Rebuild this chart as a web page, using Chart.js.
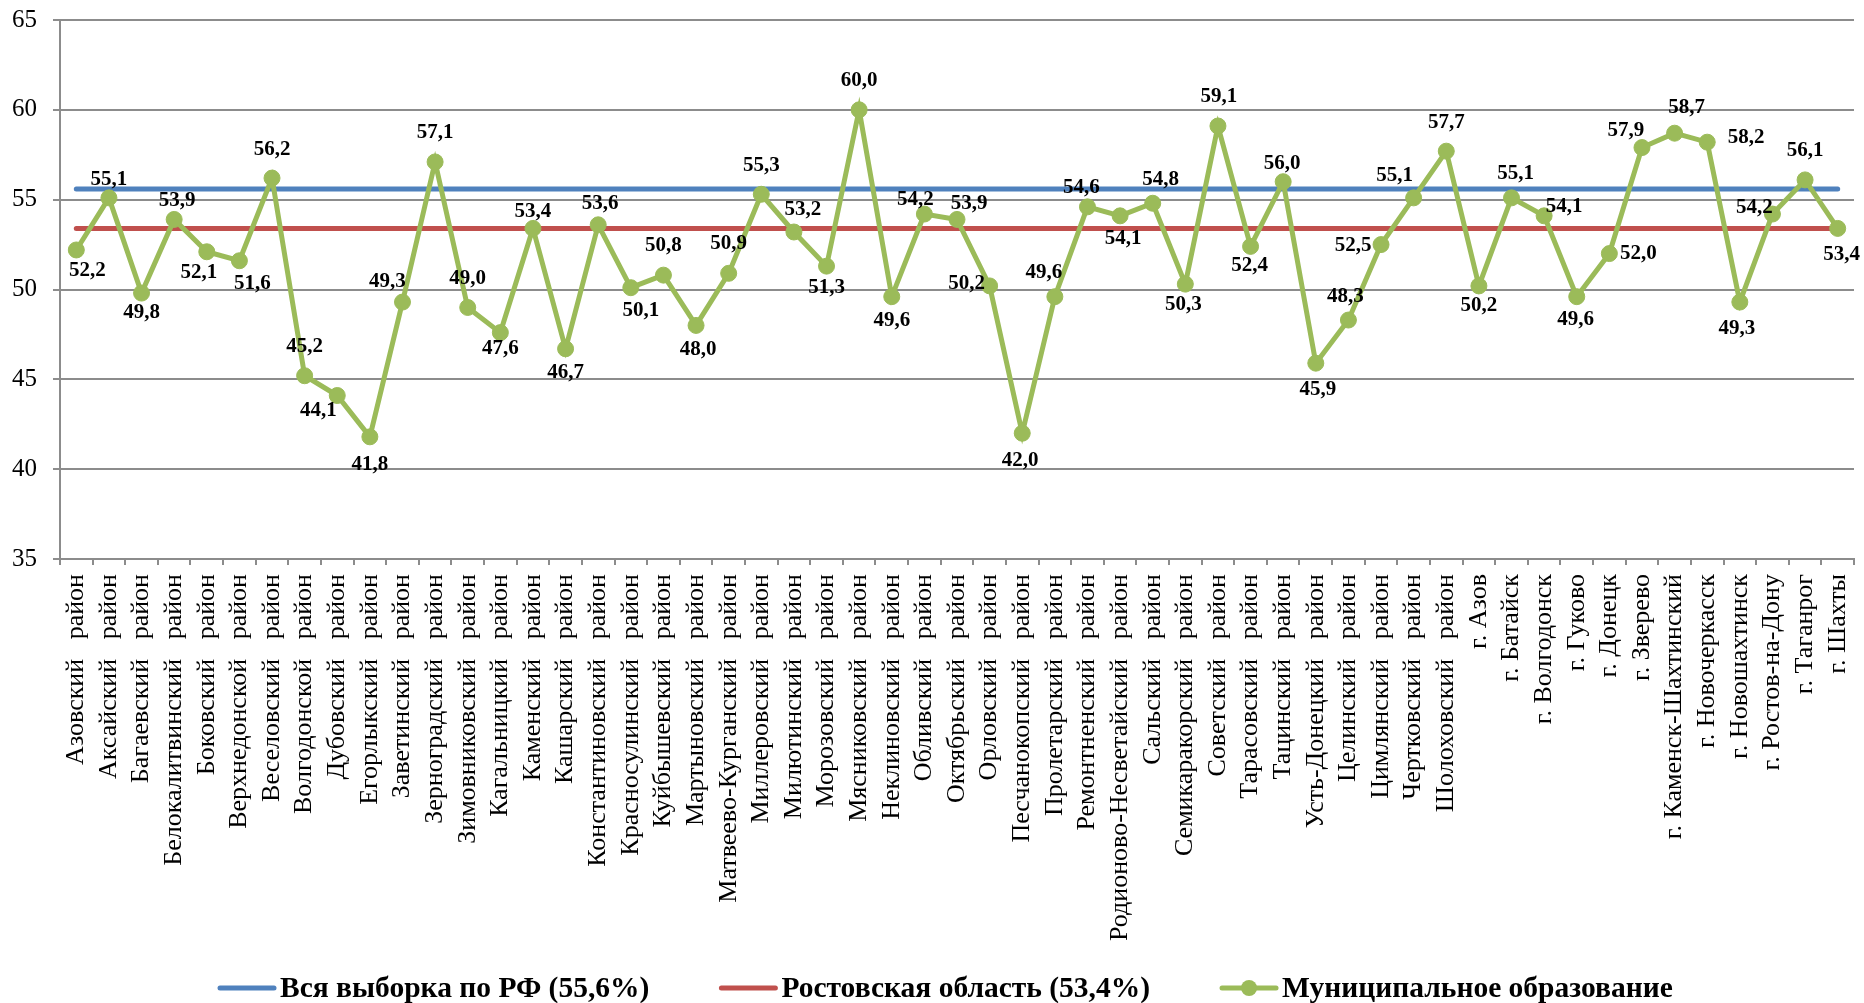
<!DOCTYPE html>
<html>
<head>
<meta charset="utf-8">
<script src="https://cdn.jsdelivr.net/npm/chart.js@4/dist/chart.umd.min.js"></script>
<style>
  body { margin: 0; background: #fff; }
  canvas { display: block; }
</style>
</head>
<body>
<canvas id="grafico" width="1864" height="1003"></canvas>
<script>
// категории (муниципальные образования)
var categories = [
    'Азовский   район', 'Аксайский   район', 'Багаевский   район', 'Белокалитвинский   район',
    'Боковский   район', 'Верхнедонской   район', 'Веселовский   район', 'Волгодонской   район',
    'Дубовский   район', 'Егорлыкский   район', 'Заветинский   район', 'Зерноградский   район',
    'Зимовниковский   район', 'Кагальницкий   район', 'Каменский   район', 'Кашарский   район',
    'Константиновский   район', 'Красносулинский   район', 'Куйбышевский   район', 'Мартыновский   район',
    'Матвеево-Курганский   район', 'Миллеровский   район', 'Милютинский   район', 'Морозовский   район',
    'Мясниковский   район', 'Неклиновский   район', 'Обливский   район', 'Октябрьский   район',
    'Орловский   район', 'Песчанокопский   район', 'Пролетарский   район', 'Ремонтненский   район',
    'Родионово-Несветайский   район', 'Сальский   район', 'Семикаракорский   район', 'Советский   район',
    'Тарасовский   район', 'Тацинский   район', 'Усть-Донецкий   район', 'Целинский   район',
    'Цимлянский   район', 'Чертковский   район', 'Шолоховский   район', 'г. Азов',
    'г. Батайск', 'г. Волгодонск', 'г. Гуково', 'г. Донецк',
    'г. Зверево', 'г. Каменск-Шахтинский', 'г. Новочеркасск', 'г. Новошахтинск',
    'г. Ростов-на-Дону', 'г. Таганрог', 'г. Шахты'
];

// значения по муниципальным образованиям
var municipal = [
    52.2, 55.1, 49.8, 53.9, 52.1, 51.6, 56.2, 45.2, 44.1, 41.8, 49.3, 57.1,
    49.0, 47.6, 53.4, 46.7, 53.6, 50.1, 50.8, 48.0, 50.9, 55.3, 53.2, 51.3,
    60.0, 49.6, 54.2, 53.9, 50.2, 42.0, 49.6, 54.6, 54.1, 54.8, 50.3, 59.1,
    52.4, 56.0, 45.9, 48.3, 52.5, 55.1, 57.7, 50.2, 55.1, 54.1, 49.6, 52.0,
    57.9, 58.7, 58.2, 49.3, 54.2, 56.1, 53.4
];

var russiaValue = 55.6;
var rostovValue = 53.4;

var yTicks = [35, 40, 45, 50, 55, 60, 65];

var seriesNames = ['Вся выборка по РФ (55,6%)', 'Ростовская область (53,4%)', 'Муниципальное образование'];

// смещения подписей данных относительно точки (px)
var labelOffsets = [
    [11, 21], [0, -18], [0, 19], [3, -19], [-8, 21], [13, 23], [0, -29], [0, -29],
    [-19, 15], [0, 28], [-15, -20], [0, -29], [0, -29], [0, 16], [0, -17], [0, 24],
    [2, -21], [10, 23], [0, -30], [2, 24], [0, -30], [0, -29], [9, -22], [0, 21],
    [0, -29], [0, 24], [-9, -14], [12, -16], [-23, -2], [-2, 27], [-11, -24], [-6, -19],
    [3, 23], [8, -24], [-2, 20], [1, -29], [-1, 19], [-1, -18], [2, 26], [-3, -23],
    [-28, 1], [-19, -22], [0, -29], [0, 20], [4, -24], [20, -9], [-1, 23], [29, 0],
    [-16, -17], [12, -26], [39, -5], [-3, 27], [-18, -6], [0, -29], [4, 26]
];

var colorBlue = '#4F81BD';
var colorRed = '#C0504D';
var colorGreen = '#9BBB59';
var colorGrid = '#8C8C8C';
var fontName = '"Liberation Serif", "Times New Roman", serif';

// подписи значений
var dataLabels = {
    id: 'dataLabels',
    afterDatasetsDraw: function (chart) {
        var meta = chart.getDatasetMeta(2);
        var ctx = chart.ctx;
        ctx.save();
        ctx.font = 'bold 21px ' + fontName;
        ctx.fillStyle = '#000';
        ctx.textAlign = 'center';
        ctx.textBaseline = 'middle';
        meta.data.forEach(function (pt, i) {
            var off = labelOffsets[i] || [0, -20];
            var txt = municipal[i].toFixed(1).replace('.', ',');
            ctx.fillText(txt, pt.x + off[0], pt.y + off[1]);
        });
        ctx.restore();
    }
};

// легенда внизу
var bottomLegend = {
    id: 'bottomLegend',
    afterDraw: function (chart) {
        var ctx = chart.ctx;
        var colors = [colorBlue, colorRed, colorGreen];
        var y = 988;
        var x = 220;
        ctx.save();
        ctx.font = 'bold 29.5px ' + fontName;
        ctx.textAlign = 'left';
        ctx.textBaseline = 'middle';
        seriesNames.forEach(function (name, i) {
            ctx.strokeStyle = colors[i];
            ctx.lineWidth = 5;
            ctx.lineCap = 'round';
            ctx.beginPath();
            ctx.moveTo(x, y);
            ctx.lineTo(x + 54, y);
            ctx.stroke();
            if (i === 2) {
                ctx.fillStyle = colors[i];
                ctx.beginPath();
                ctx.arc(x + 27, y, 8, 0, Math.PI * 2);
                ctx.fill();
            }
            ctx.fillStyle = '#000';
            ctx.fillText(name, x + 60, y + 1);
            x += 60 + ctx.measureText(name).width + 72;
        });
        ctx.restore();
    }
};

var datos = {
    labels: categories,
    datasets: [
        {
            label: seriesNames[0],
            data: categories.map(function () { return russiaValue; }),
            borderColor: colorBlue,
            borderWidth: 5,
            borderCapStyle: 'round',
            pointRadius: 0,
            order: 2
        },
        {
            label: seriesNames[1],
            data: categories.map(function () { return rostovValue; }),
            borderColor: colorRed,
            borderWidth: 5,
            borderCapStyle: 'round',
            pointRadius: 0,
            order: 1
        },
        {
            label: seriesNames[2],
            data: municipal,
            borderColor: colorGreen,
            backgroundColor: colorGreen,
            borderWidth: 5,
            pointRadius: 8,
            pointBackgroundColor: colorGreen,
            pointBorderColor: colorGreen,
            pointBorderWidth: 1,
            order: 0
        }
    ]
};

var configuracion = {
    type: 'line',
    data: datos,
    options: {
        responsive: false,
        animation: false,
        layout: { padding: { top: 20, right: 10, bottom: 61, left: 0 } },
        plugins: {
            legend: { display: false },
            tooltip: { enabled: false }
        },
        scales: {
            x: {
                offset: true,
                grid: {
                    offset: true,
                    drawOnChartArea: false,
                    drawTicks: true,
                    tickLength: 6,
                    color: colorGrid,
                    lineWidth: 2
                },
                border: { display: true, color: colorGrid, width: 2 },
                ticks: {
                    autoSkip: false,
                    minRotation: 90,
                    maxRotation: 90,
                    padding: 9,
                    color: '#000',
                    font: { family: fontName, size: 26 }
                },
                afterFit: function (s) {
                    s.height = 383;
                    s.paddingLeft = 0;
                    s.paddingRight = 0;
                }
            },
            y: {
                min: 35,
                max: 65,
                afterBuildTicks: function (s) {
                    s.ticks = yTicks.map(function (v) { return { value: v }; });
                },
                grid: {
                    color: colorGrid,
                    lineWidth: 2,
                    tickLength: 7
                },
                border: { display: true, color: colorGrid, width: 2 },
                ticks: {
                    padding: 16,
                    color: '#000',
                    font: { family: fontName, size: 25 }
                },
                afterFit: function (s) {
                    s.width = 60;
                    s.paddingTop = 0;
                    s.paddingBottom = 0;
                }
            }
        }
    },
    plugins: [dataLabels, bottomLegend]
};

var miGrafico = new Chart(document.getElementById('grafico'), configuracion);
</script>
</body>
</html>
